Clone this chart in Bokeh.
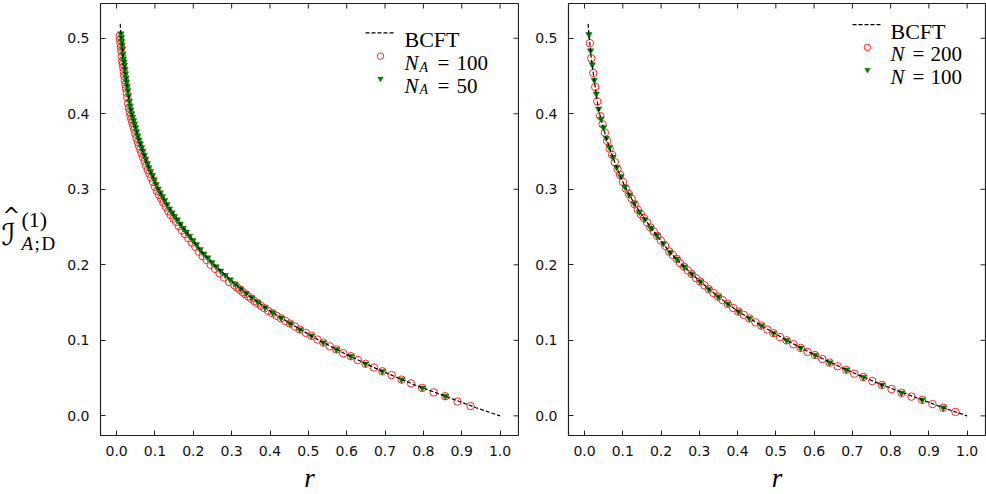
import math
from bokeh.plotting import figure
from bokeh.models import Range1d, FixedTicker, Label
from bokeh.layouts import row
from bokeh.embed import file_html
from bokeh.resources import INLINE

# ---------------- data ----------------
x_ticks = [0.0, 0.1, 0.2, 0.3, 0.4, 0.5, 0.6, 0.7, 0.8, 0.9, 1.0]
x_tick_labels = ["0.0", "0.1", "0.2", "0.3", "0.4", "0.5", "0.6", "0.7", "0.8", "0.9", "1.0"]
y_ticks = [0.0, 0.1, 0.2, 0.3, 0.4, 0.5]
y_tick_labels = ["0.0", "0.1", "0.2", "0.3", "0.4", "0.5"]

bcft_r = [0.0094, 0.0113, 0.0138, 0.0157, 0.0175, 0.0201, 0.0227, 0.0253, 0.0279, 0.0305,
          0.0331, 0.0366, 0.0410, 0.0488, 0.0567, 0.0671, 0.0843, 0.1044, 0.1297, 0.1584,
          0.1888, 0.2211, 0.2603, 0.3021, 0.3491, 0.4021, 0.4621, 0.5282, 0.6024, 0.6841,
          0.7773, 0.8825, 0.9373, 0.9695, 1.0]
bcft_y = [0.519, 0.505, 0.4935, 0.4835, 0.4735, 0.465, 0.454, 0.4445, 0.4355, 0.4264,
          0.4164, 0.4065, 0.3969, 0.3830, 0.3679, 0.3523, 0.3286, 0.3047, 0.2813, 0.2597,
          0.2390, 0.2177, 0.1974, 0.1779, 0.1579, 0.1381, 0.1195, 0.1000, 0.0805, 0.0610,
          0.0410, 0.0212, 0.0108, 0.0052, 0.0]

# left panel, N_A = 50 (green triangles)
left_n50_r = [0.0112, 0.0122, 0.0132, 0.0143, 0.0154, 0.0166, 0.0178, 0.0190, 0.0203, 0.0216,
              0.0230, 0.0245, 0.0260, 0.0276, 0.0293, 0.0311, 0.0330, 0.0350, 0.0371, 0.0393,
              0.0416, 0.0441, 0.0467, 0.0494, 0.0522, 0.0552, 0.0583, 0.0615, 0.0649, 0.0684,
              0.0721, 0.0760, 0.0800, 0.0842, 0.0886, 0.0932, 0.0980, 0.1030, 0.1082, 0.1136,
              0.1192, 0.1251, 0.1312, 0.1376, 0.1442, 0.1511, 0.1583, 0.1658, 0.1736, 0.1817,
              0.1901, 0.1989, 0.2080, 0.2175, 0.2274, 0.2377, 0.2484, 0.2596, 0.2712, 0.2834,
              0.2961, 0.3094, 0.3233, 0.3378, 0.3529, 0.3687, 0.3870, 0.4070, 0.4290, 0.4520,
              0.4780, 0.5080, 0.5390, 0.5730, 0.6110, 0.6490, 0.6930, 0.7430, 0.7970, 0.8570]
left_n50_y = [0.5060, 0.5010, 0.4960, 0.4910, 0.4855, 0.4790, 0.4728, 0.4690, 0.4643, 0.4588,
              0.4530, 0.4474, 0.4421, 0.4366, 0.4307, 0.4241, 0.4168, 0.4106, 0.4053, 0.4001,
              0.3957, 0.3911, 0.3865, 0.3818, 0.3765, 0.3708, 0.3655, 0.3606, 0.3556, 0.3505,
              0.3453, 0.3400, 0.3343, 0.3287, 0.3236, 0.3186, 0.3127, 0.3064, 0.3005, 0.2955,
              0.2906, 0.2852, 0.2799, 0.2742, 0.2691, 0.2643, 0.2598, 0.2541, 0.2485, 0.2436,
              0.2381, 0.2324, 0.2269, 0.2203, 0.2145, 0.2094, 0.2031, 0.1977, 0.1919, 0.1862,
              0.1803, 0.1745, 0.1684, 0.1623, 0.1564, 0.1504, 0.1434, 0.1366, 0.1296, 0.1223,
              0.1143, 0.1060, 0.0970, 0.0880, 0.0790, 0.0690, 0.0590, 0.0480, 0.0370, 0.0260]

# left panel, N_A = 100 (red open circles)
left_n100_r = [0.0082, 0.0092, 0.0102, 0.0113, 0.0124, 0.0136, 0.0148, 0.0160, 0.0173, 0.0186,
               0.0200, 0.0215, 0.0230, 0.0246, 0.0263, 0.0281, 0.0300, 0.0320, 0.0341, 0.0363,
               0.0386, 0.0411, 0.0437, 0.0464, 0.0492, 0.0522, 0.0553, 0.0585, 0.0619, 0.0654,
               0.0691, 0.0730, 0.0770, 0.0812, 0.0856, 0.0902, 0.0950, 0.1000, 0.1052, 0.1106,
               0.1162, 0.1221, 0.1282, 0.1346, 0.1412, 0.1481, 0.1553, 0.1628, 0.1706, 0.1787,
               0.1871, 0.1959, 0.2050, 0.2145, 0.2244, 0.2347, 0.2454, 0.2566, 0.2682, 0.2804,
               0.2931, 0.3074, 0.3140, 0.3213, 0.3285, 0.3358, 0.3430, 0.3509, 0.3590, 0.3667,
               0.3760, 0.3855, 0.3955, 0.4060, 0.4170, 0.4285, 0.4400, 0.4520, 0.4650, 0.4780,
               0.4930, 0.5080, 0.5240, 0.5390, 0.5560, 0.5730, 0.5910, 0.6110, 0.6290, 0.6490,
               0.6710, 0.6930, 0.7170, 0.7430, 0.7680, 0.7970, 0.8270, 0.8570, 0.8890, 0.9230]
left_n100_y = [0.5030, 0.4980, 0.4930, 0.4880, 0.4825, 0.4760, 0.4698, 0.4660, 0.4613, 0.4558,
               0.4500, 0.4444, 0.4391, 0.4336, 0.4277, 0.4211, 0.4138, 0.4076, 0.4023, 0.3971,
               0.3927, 0.3881, 0.3835, 0.3788, 0.3735, 0.3678, 0.3625, 0.3576, 0.3526, 0.3475,
               0.3423, 0.3370, 0.3313, 0.3257, 0.3206, 0.3156, 0.3097, 0.3034, 0.2975, 0.2925,
               0.2876, 0.2822, 0.2769, 0.2712, 0.2661, 0.2613, 0.2568, 0.2511, 0.2455, 0.2406,
               0.2351, 0.2294, 0.2239, 0.2173, 0.2115, 0.2064, 0.2001, 0.1947, 0.1889, 0.1832,
               0.1773, 0.1730, 0.1701, 0.1670, 0.1640, 0.1610, 0.1582, 0.1552, 0.1521, 0.1493,
               0.1458, 0.1425, 0.1392, 0.1360, 0.1325, 0.1292, 0.1257, 0.1222, 0.1183, 0.1143,
               0.1100, 0.1060, 0.1010, 0.0970, 0.0920, 0.0880, 0.0830, 0.0790, 0.0740, 0.0690,
               0.0640, 0.0590, 0.0540, 0.0480, 0.0430, 0.0370, 0.0310, 0.0260, 0.0190, 0.0130]

# right panel, N = 200 (red open circles)
right_n200_r = [0.0138, 0.0175, 0.0227, 0.0279, 0.0331, 0.0410, 0.0470, 0.0530, 0.0590, 0.0655,
                0.0720, 0.0790, 0.0860, 0.0930, 0.1005, 0.1080, 0.1155, 0.1230, 0.1310, 0.1390,
                0.1470, 0.1550, 0.1635, 0.1720, 0.1810, 0.1900, 0.1995, 0.2107, 0.2211, 0.2305,
                0.2410, 0.2499, 0.2603, 0.2697, 0.2802, 0.2916, 0.3021, 0.3133, 0.3245, 0.3368,
                0.3491, 0.3611, 0.3742, 0.3883, 0.4021, 0.4159, 0.4308, 0.4465, 0.4621, 0.4778,
                0.4935, 0.5110, 0.5282, 0.5457, 0.5648, 0.5830, 0.6024, 0.6214, 0.6405, 0.6614,
                0.6841, 0.7050, 0.7285, 0.7520, 0.7773, 0.8024, 0.8285, 0.8546, 0.8825, 0.9094,
                0.9373, 0.9695]
right_n200_y = [0.4935, 0.4735, 0.4540, 0.4355, 0.4164, 0.3969, 0.3860, 0.3750, 0.3640, 0.3540,
                0.3455, 0.3360, 0.3267, 0.3189, 0.3097, 0.3010, 0.2940, 0.2873, 0.2802, 0.2730,
                0.2670, 0.2620, 0.2560, 0.2495, 0.2440, 0.2383, 0.2320, 0.2250, 0.2177, 0.2130,
                0.2078, 0.2021, 0.1974, 0.1926, 0.1878, 0.1822, 0.1779, 0.1727, 0.1679, 0.1627,
                0.1579, 0.1532, 0.1484, 0.1429, 0.1381, 0.1338, 0.1290, 0.1238, 0.1195, 0.1143,
                0.1095, 0.1043, 0.1000, 0.0948, 0.0900, 0.0848, 0.0805, 0.0753, 0.0705, 0.0657,
                0.0610, 0.0558, 0.0514, 0.0462, 0.0410, 0.0355, 0.0306, 0.0255, 0.0212, 0.0156,
                0.0108, 0.0052]

# right panel, N = 100 (green triangles)
right_n100_r = [0.0113, 0.0157, 0.0201, 0.0253, 0.0305, 0.0366, 0.0430, 0.0495, 0.0567, 0.0650,
                0.0740, 0.0840, 0.0945, 0.1055, 0.1170, 0.1295, 0.1430, 0.1575, 0.1730, 0.1890,
                0.2060, 0.2230, 0.2410, 0.2603, 0.2802, 0.3021, 0.3245, 0.3491, 0.3742, 0.4021,
                0.4308, 0.4621, 0.4935, 0.5282, 0.5648, 0.6024, 0.6405, 0.6841, 0.7285, 0.7773,
                0.8285, 0.8825, 0.9373]
right_n100_y = [0.5050, 0.4835, 0.4650, 0.4445, 0.4264, 0.4065, 0.3933, 0.3817, 0.3679, 0.3555,
                0.3428, 0.3290, 0.3172, 0.3033, 0.2927, 0.2815, 0.2700, 0.2603, 0.2488, 0.2389,
                0.2283, 0.2168, 0.2078, 0.1974, 0.1878, 0.1779, 0.1679, 0.1579, 0.1484, 0.1381,
                0.1290, 0.1195, 0.1095, 0.1000, 0.0900, 0.0805, 0.0705, 0.0610, 0.0514, 0.0410,
                0.0306, 0.0212, 0.0108]

# ---------------- layout / style ----------------
FH = 432
W1, W2 = 418, 417
XR = (-0.042, 1.048)
YR = (-0.026, 0.546)
SERIF = "Liberation Serif"
TICK_FONT = "DejaVu Sans"
RED = "#ff2a2a"
GREEN = "#008000"
FRAME = "#222222"
TOP = 3
BOTTOM = 56


def txt(p, x, y, text, size, font=SERIF, style="normal", align="left"):
    p.add_layout(Label(x=x, y=y, x_units="screen", y_units="screen", text=text,
                       text_font=font, text_font_size=size, text_font_style=style,
                       text_align=align, text_baseline="alphabetic", text_color="black"))


def panel(W, red_r, red_y, green_r, green_y, border_left, border_right):
    p = figure(frame_width=W, frame_height=FH, x_range=Range1d(*XR), y_range=Range1d(*YR),
               output_backend="svg", toolbar_location=None,
               min_border_left=border_left, min_border_right=border_right,
               min_border_top=TOP, min_border_bottom=BOTTOM)
    p.xgrid.visible = False
    p.ygrid.visible = False
    p.outline_line_color = FRAME
    p.outline_line_width = 1.2
    p.background_fill_color = "white"
    p.border_fill_color = "white"

    p.xaxis.ticker = FixedTicker(ticks=x_ticks)
    p.yaxis.ticker = FixedTicker(ticks=y_ticks)
    p.xaxis.major_label_overrides = dict(zip(x_ticks, x_tick_labels))
    p.yaxis.major_label_overrides = dict(zip(y_ticks, y_tick_labels))
    for ax, so in ((p.xaxis[0], 10), (p.yaxis[0], 11)):
        ax.major_tick_in = 5
        ax.major_tick_out = 0
        ax.minor_tick_line_color = None
        ax.axis_line_color = None
        ax.major_tick_line_color = FRAME
        ax.major_tick_line_width = 1
        ax.major_label_text_font = TICK_FONT
        ax.major_label_text_font_size = "14px"
        ax.major_label_text_color = "#111111"
        ax.major_label_standoff = so
    xa = p.xaxis[0]
    xa.axis_label = "r"
    xa.axis_label_text_font = SERIF
    xa.axis_label_text_font_style = "italic"
    xa.axis_label_text_font_size = "27px"
    xa.axis_label_text_color = "black"
    xa.axis_label_standoff = 4

    # inward ticks on the top and right edges of the frame
    p.ray(x=x_ticks, y=[YR[1]] * len(x_ticks), length=5, length_units="screen",
          angle=-math.pi / 2, line_color=FRAME, line_width=1)
    p.ray(x=[XR[1]] * len(y_ticks), y=y_ticks, length=5, length_units="screen",
          angle=math.pi, line_color=FRAME, line_width=1)

    p.scatter(red_r, red_y, marker="circle", size=7.5, fill_color=None,
              line_color=RED, line_width=1)
    p.scatter(green_r, green_y, marker="inverted_triangle", size=6.5,
              fill_color=GREEN, line_color=GREEN, line_width=0.5)
    p.line(bcft_r, bcft_y, line_color="black", line_width=1.2, line_dash="4 2")
    return p


def legend_keys(p, W, gx, centers):
    """Legend key samples placed at pixel offsets (gx, centre) from the frame's top-left."""
    def sx(px):
        return XR[0] + px / W * (XR[1] - XR[0])

    def sy(py):
        return YR[1] - py / FH * (YR[1] - YR[0])

    p.line([sx(gx), sx(gx + 29)], [sy(centers[0])] * 2, line_color="black",
           line_width=1.2, line_dash="4 2")
    p.scatter([sx(gx + 15)], [sy(centers[1])], marker="circle", size=6.5,
              fill_color=None, line_color=RED, line_width=1)
    p.scatter([sx(gx + 15)], [sy(centers[2])], marker="inverted_triangle", size=5.5,
              fill_color=GREEN, line_color=GREEN, line_width=0.5)


# ---------- y-axis label panel ----------
p0 = figure(frame_width=64, frame_height=FH, x_axis_type=None, y_axis_type=None,
            output_backend="svg", toolbar_location=None, min_border_left=0,
            min_border_right=0, min_border_top=TOP, min_border_bottom=BOTTOM,
            x_range=Range1d(0, 1), y_range=Range1d(0, 1))
p0.outline_line_color = None
p0.xgrid.visible = False
p0.ygrid.visible = False
ly = FH - 231
txt(p0, 1, ly, "\u2110", "30px", font="DejaVu Sans")
txt(p0, 2, ly + 19, "^", "21px", font="DejaVu Sans")
txt(p0, 21, ly + 15, "(1)", "22px")
txt(p0, 21, ly - 9, "A", "19px", style="italic")
txt(p0, 34, ly - 9, ";", "19px")
txt(p0, 41, ly - 9, "D", "19px")

# ---------- left panel ----------
p1 = panel(W1, left_n100_r, left_n100_y, left_n50_r, left_n50_y, 34, 1)
c_left = [29.3, 52.7, 75.2]
legend_keys(p1, W1, 265, c_left)
tx1 = 304
txt(p1, tx1, FH - (c_left[0] + 7), "BCFT", "22px")
for c, num in ((c_left[1], "100"), (c_left[2], "50")):
    b = FH - (c + 7)
    txt(p1, tx1, b, "N", "21px", style="italic")
    txt(p1, tx1 + 15, b - 4, "A", "14px", style="italic")
    txt(p1, tx1 + 33, b, "=", "21px")
    txt(p1, tx1 + 52, b, num, "21px")

# ---------- right panel ----------
p2 = panel(W2, right_n200_r, right_n200_y, right_n100_r, right_n100_y, 49, 3)
c_right = [21.2, 43.9, 66.4]
legend_keys(p2, W2, 284, c_right)
tx2 = 322
txt(p2, tx2, FH - (c_right[0] + 7), "BCFT", "22px")
for c, num in ((c_right[1], "200"), (c_right[2], "100")):
    b = FH - (c + 7)
    txt(p2, tx2, b, "N", "21px", style="italic")
    txt(p2, tx2 + 22, b, "=", "21px")
    txt(p2, tx2 + 40, b, num, "21px")

layout = row(p0, p1, p2)
open("out.html", "w").write(file_html(layout, INLINE))
